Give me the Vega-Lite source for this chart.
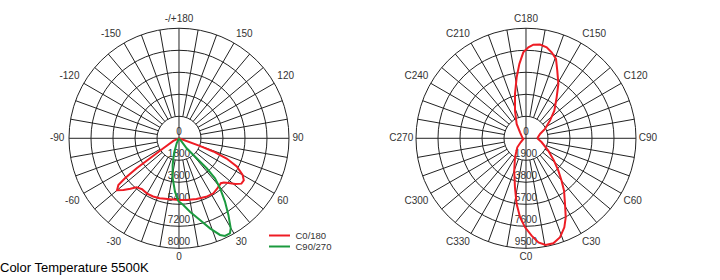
{
  "$schema": "https://vega.github.io/schema/vega-lite/v6.json",
  "padding": 0,
  "spacing": 0,
  "title": {"text": "Color Temperature 5500K", "orient": "bottom", "anchor": "start", "offset": -18, "fontSize": 13, "fontWeight": "normal", "font": "Liberation Sans", "color": "#000"},
  "config": {"view": {"stroke": null}, "font": "Liberation Sans"},
  "datasets": {
    "spokes": [{"a":0},{"a":10},{"a":20},{"a":30},{"a":40},{"a":50},{"a":60},{"a":70},{"a":80},{"a":90},{"a":100},{"a":110},{"a":120},{"a":130},{"a":140},{"a":150},{"a":160},{"a":170},{"a":180},{"a":190},{"a":200},{"a":210},{"a":220},{"a":230},{"a":240},{"a":250},{"a":260},{"a":270},{"a":280},{"a":290},{"a":300},{"a":310},{"a":320},{"a":330},{"a":340},{"a":350}],
    "ringsL": [{"k":0,"label":"0"},{"k":1,"label":"1800"},{"k":2,"label":"3600"},{"k":3,"label":"5400"},{"k":4,"label":"7200"},{"k":5,"label":"8000"}],
    "ringsR": [{"k":0,"label":"0"},{"k":1,"label":"1900"},{"k":2,"label":"3800"},{"k":3,"label":"5700"},{"k":4,"label":"7600"},{"k":5,"label":"9500"}],
    "anglesL": [{"a":0,"label":"0"},{"a":30,"label":"30"},{"a":60,"label":"60"},{"a":90,"label":"90"},{"a":120,"label":"120"},{"a":150,"label":"150"},{"a":180,"label":"-/+180"},{"a":-150,"label":"-150"},{"a":-120,"label":"-120"},{"a":-90,"label":"-90"},{"a":-60,"label":"-60"},{"a":-30,"label":"-30"}],
    "anglesR": [{"a":0,"label":"C0"},{"a":30,"label":"C30"},{"a":60,"label":"C60"},{"a":90,"label":"C90"},{"a":120,"label":"C120"},{"a":150,"label":"C150"},{"a":180,"label":"C180"},{"a":210,"label":"C210"},{"a":240,"label":"C240"},{"a":270,"label":"C270"},{"a":300,"label":"C300"},{"a":330,"label":"C330"}],
    "curvesL": [
      {"plane":"C0/180","a":90,"cd":0},{"plane":"C0/180","a":70,"cd":1800},{"plane":"C0/180","a":69,"cd":3010},{"plane":"C0/180","a":67,"cd":4230},{"plane":"C0/180","a":64,"cd":5260},{"plane":"C0/180","a":60,"cd":6010},{"plane":"C0/180","a":57,"cd":6320},{"plane":"C0/180","a":54,"cd":6310},{"plane":"C0/180","a":51,"cd":5930},{"plane":"C0/180","a":48,"cd":5460},{"plane":"C0/180","a":45.5,"cd":5150},{"plane":"C0/180","a":43,"cd":5020},{"plane":"C0/180","a":37.5,"cd":5155},{"plane":"C0/180","a":32,"cd":5305},{"plane":"C0/180","a":25,"cd":5280},{"plane":"C0/180","a":16,"cd":5170},{"plane":"C0/180","a":7,"cd":5085},{"plane":"C0/180","a":0,"cd":5045},{"plane":"C0/180","a":-8,"cd":5045},{"plane":"C0/180","a":-18,"cd":5150},{"plane":"C0/180","a":-24,"cd":5210},{"plane":"C0/180","a":-30,"cd":5220},{"plane":"C0/180","a":-36,"cd":5150},{"plane":"C0/180","a":-41,"cd":5300},{"plane":"C0/180","a":-44,"cd":5730},{"plane":"C0/180","a":-47,"cd":6210},{"plane":"C0/180","a":-50,"cd":6620},{"plane":"C0/180","a":-52.4,"cd":6260},{"plane":"C0/180","a":-53.5,"cd":5500},{"plane":"C0/180","a":-54.7,"cd":4245},{"plane":"C0/180","a":-55.4,"cd":2880},{"plane":"C0/180","a":-57.5,"cd":1520},{"plane":"C0/180","a":-65,"cd":510},{"plane":"C0/180","a":-90,"cd":0},
      {"plane":"C90/270","a":40,"cd":0},{"plane":"C90/270","a":38.7,"cd":350},{"plane":"C90/270","a":37.5,"cd":1030},{"plane":"C90/270","a":41.5,"cd":2180},{"plane":"C90/270","a":42.7,"cd":3340},{"plane":"C90/270","a":42,"cd":4400},{"plane":"C90/270","a":39.4,"cd":5290},{"plane":"C90/270","a":36,"cd":6400},{"plane":"C90/270","a":32.8,"cd":7460},{"plane":"C90/270","a":29.9,"cd":8490},{"plane":"C90/270","a":28.2,"cd":8820},{"plane":"C90/270","a":25.2,"cd":8830},{"plane":"C90/270","a":23,"cd":8590},{"plane":"C90/270","a":19,"cd":7790},{"plane":"C90/270","a":14.4,"cd":6900},{"plane":"C90/270","a":8.5,"cd":6070},{"plane":"C90/270","a":3.7,"cd":5470},{"plane":"C90/270","a":-0.6,"cd":5130},{"plane":"C90/270","a":-4.3,"cd":4380},{"plane":"C90/270","a":-9,"cd":3310},{"plane":"C90/270","a":-13.4,"cd":2240},{"plane":"C90/270","a":-18.4,"cd":1290},{"plane":"C90/270","a":-25,"cd":450},{"plane":"C90/270","a":-40,"cd":0}
    ],
    "curveR": [
      {"c":90,"cd":980},{"c":75.7,"cd":1400},{"c":61,"cd":2200},{"c":51.4,"cd":3090},{"c":45,"cd":3950},{"c":40,"cd":4780},{"c":36,"cd":5590},{"c":30.7,"cd":6600},{"c":26.7,"cd":7640},{"c":23.3,"cd":8370},{"c":19,"cd":9040},{"c":14.6,"cd":9370},{"c":10.4,"cd":9370},{"c":6.8,"cd":9050},{"c":3.3,"cd":8420},{"c":359.4,"cd":7690},{"c":355.7,"cd":6840},{"c":351.9,"cd":5730},{"c":347.3,"cd":4340},{"c":340,"cd":2970},{"c":330,"cd":1900},{"c":316,"cd":1080},{"c":307,"cd":575},{"c":284,"cd":240},{"c":270,"cd":290},{"c":225,"cd":730},{"c":213,"cd":1480},{"c":201.7,"cd":2570},{"c":193.9,"cd":3950},{"c":188.7,"cd":5330},{"c":185.1,"cd":6450},{"c":181.8,"cd":7430},{"c":178.5,"cd":7860},{"c":175.5,"cd":8110},{"c":171.5,"cd":8180},{"c":167.2,"cd":8060},{"c":163.4,"cd":7750},{"c":159.3,"cd":7330},{"c":155.2,"cd":6440},{"c":149.2,"cd":5460},{"c":143.2,"cd":4420},{"c":134.3,"cd":3420},{"c":126.4,"cd":2570},{"c":116.2,"cd":1830},{"c":107.2,"cd":1270},{"c":90,"cd":980}
    ]
  },
  "hconcat": [
    {
      "width": 360,
      "height": 280,
      "layer": [
        {
          "data": {"name": "ringsL"},
          "transform": [{"filter": "datum.k > 0"}],
          "mark": {"type": "point", "shape": "circle", "filled": false, "stroke": "#222", "strokeWidth": 1, "opacity": 1},
          "encoding": {
            "x": {"datum": 0, "type": "quantitative", "scale": {"domain": [-8.136, 8.227], "nice": false, "zero": false}, "axis": null},
            "y": {"datum": 0, "type": "quantitative", "scale": {"domain": [-6.441, 6.286], "nice": false, "zero": false}, "axis": null},
            "size": {"field": "k", "type": "quantitative", "scale": {"type": "pow", "exponent": 2, "domain": [0, 5], "range": [0, 48400]}, "legend": null}
          }
        },
        {
          "data": {"name": "spokes"},
          "transform": [
            {"calculate": "datum.a % 90 == 0 ? 0 : 1", "as": "r0"},
            {"calculate": "datum.r0*sin(datum.a*PI/180)", "as": "x"},
            {"calculate": "-datum.r0*cos(datum.a*PI/180)", "as": "y"},
            {"calculate": "5*sin(datum.a*PI/180)", "as": "x2"},
            {"calculate": "-5*cos(datum.a*PI/180)", "as": "y2"}
          ],
          "mark": {"type": "rule", "stroke": "#222", "strokeWidth": 1},
          "encoding": {
            "x": {"field": "x", "type": "quantitative", "scale": {"domain": [-8.136, 8.227], "nice": false, "zero": false}, "axis": null},
            "y": {"field": "y", "type": "quantitative", "scale": {"domain": [-6.441, 6.286], "nice": false, "zero": false}, "axis": null},
            "x2": {"field": "x2"},
            "y2": {"field": "y2"}
          }
        },
        {
          "data": {"name": "ringsL"},
          "transform": [{"calculate": "datum.k == 0 ? 0.3 : 0.3 - datum.k", "as": "y"}],
          "mark": {"type": "text", "fontSize": 10, "font": "Liberation Sans", "fill": "#333", "align": "center", "baseline": "middle"},
          "encoding": {
            "x": {"datum": 0, "type": "quantitative", "scale": {"domain": [-8.136, 8.227], "nice": false, "zero": false}, "axis": null},
            "y": {"field": "y", "type": "quantitative", "scale": {"domain": [-6.441, 6.286], "nice": false, "zero": false}, "axis": null},
            "text": {"field": "label"}
          }
        },
        {
          "data": {"name": "anglesL"},
          "transform": [
            {"calculate": "sin(datum.a*PI/180)", "as": "s"},
            {"calculate": "cos(datum.a*PI/180)", "as": "c"},
            {"calculate": "5.15*datum.s + (abs(datum.s) > 0.1 ? (datum.s > 0 ? 1 : -1)*length(datum.label)*0.13 : 0)", "as": "x"},
            {"calculate": "-(5.15*datum.c + (abs(datum.c) > 0.1 ? (datum.c > 0 ? 1 : -1)*0.26 : 0))", "as": "y"}
          ],
          "mark": {"type": "text", "fontSize": 10, "font": "Liberation Sans", "fill": "#333", "align": "center", "baseline": "middle"},
          "encoding": {
            "x": {"field": "x", "type": "quantitative", "scale": {"domain": [-8.136, 8.227], "nice": false, "zero": false}, "axis": null},
            "y": {"field": "y", "type": "quantitative", "scale": {"domain": [-6.441, 6.286], "nice": false, "zero": false}, "axis": null},
            "text": {"field": "label"}
          }
        },
        {
          "data": {"name": "curvesL"},
          "transform": [
            {"calculate": "datum.cd/1800*sin(datum.a*PI/180)", "as": "x"},
            {"calculate": "-datum.cd/1800*cos(datum.a*PI/180)", "as": "y"}
          ],
          "mark": {"type": "line", "strokeWidth": 2},
          "encoding": {
            "x": {"field": "x", "type": "quantitative", "scale": {"domain": [-8.136, 8.227], "nice": false, "zero": false}, "axis": null},
            "y": {"field": "y", "type": "quantitative", "scale": {"domain": [-6.441, 6.286], "nice": false, "zero": false}, "axis": null},
            "color": {"field": "plane", "type": "nominal", "scale": {"domain": ["C0/180", "C90/270"], "range": ["#ee1c24", "#1b9a3e"]},
              "legend": {"title": null, "orient": "none", "legendX": 273, "legendY": 229, "symbolType": "M-2,0L2,0", "symbolSize": 110, "symbolStrokeWidth": 2, "labelFont": "Liberation Sans", "labelFontSize": 9.5, "labelColor": "#333", "rowPadding": 0, "labelOffset": 9.5, "padding": 0}},
            "order": {"value": null}
          }
        }
      ]
    },
    {
      "width": 360,
      "height": 280,
      "layer": [
        {
          "data": {"name": "ringsR"},
          "transform": [{"filter": "datum.k > 0"}],
          "mark": {"type": "point", "shape": "circle", "filled": false, "stroke": "#222", "strokeWidth": 1, "opacity": 1},
          "encoding": {
            "x": {"datum": 0, "type": "quantitative", "scale": {"domain": [-7.545, 8.818], "nice": false, "zero": false}, "axis": null},
            "y": {"datum": 0, "type": "quantitative", "scale": {"domain": [-6.441, 6.286], "nice": false, "zero": false}, "axis": null},
            "size": {"field": "k", "type": "quantitative", "scale": {"type": "pow", "exponent": 2, "domain": [0, 5], "range": [0, 48400]}, "legend": null}
          }
        },
        {
          "data": {"name": "spokes"},
          "transform": [
            {"calculate": "datum.a % 90 == 0 ? 0 : 1", "as": "r0"},
            {"calculate": "datum.r0*sin(datum.a*PI/180)", "as": "x"},
            {"calculate": "-datum.r0*cos(datum.a*PI/180)", "as": "y"},
            {"calculate": "5*sin(datum.a*PI/180)", "as": "x2"},
            {"calculate": "-5*cos(datum.a*PI/180)", "as": "y2"}
          ],
          "mark": {"type": "rule", "stroke": "#222", "strokeWidth": 1},
          "encoding": {
            "x": {"field": "x", "type": "quantitative", "scale": {"domain": [-7.545, 8.818], "nice": false, "zero": false}, "axis": null},
            "y": {"field": "y", "type": "quantitative", "scale": {"domain": [-6.441, 6.286], "nice": false, "zero": false}, "axis": null},
            "x2": {"field": "x2"},
            "y2": {"field": "y2"}
          }
        },
        {
          "data": {"name": "ringsR"},
          "transform": [{"calculate": "datum.k == 0 ? 0.3 : 0.3 - datum.k", "as": "y"}],
          "mark": {"type": "text", "fontSize": 10, "font": "Liberation Sans", "fill": "#333", "align": "center", "baseline": "middle"},
          "encoding": {
            "x": {"datum": 0, "type": "quantitative", "scale": {"domain": [-7.545, 8.818], "nice": false, "zero": false}, "axis": null},
            "y": {"field": "y", "type": "quantitative", "scale": {"domain": [-6.441, 6.286], "nice": false, "zero": false}, "axis": null},
            "text": {"field": "label"}
          }
        },
        {
          "data": {"name": "anglesR"},
          "transform": [
            {"calculate": "sin(datum.a*PI/180)", "as": "s"},
            {"calculate": "cos(datum.a*PI/180)", "as": "c"},
            {"calculate": "5.15*datum.s + (abs(datum.s) > 0.1 ? (datum.s > 0 ? 1 : -1)*length(datum.label)*0.13 : 0)", "as": "x"},
            {"calculate": "-(5.15*datum.c + (abs(datum.c) > 0.1 ? (datum.c > 0 ? 1 : -1)*0.26 : 0))", "as": "y"}
          ],
          "mark": {"type": "text", "fontSize": 10, "font": "Liberation Sans", "fill": "#333", "align": "center", "baseline": "middle"},
          "encoding": {
            "x": {"field": "x", "type": "quantitative", "scale": {"domain": [-7.545, 8.818], "nice": false, "zero": false}, "axis": null},
            "y": {"field": "y", "type": "quantitative", "scale": {"domain": [-6.441, 6.286], "nice": false, "zero": false}, "axis": null},
            "text": {"field": "label"}
          }
        },
        {
          "data": {"name": "curveR"},
          "transform": [
            {"calculate": "datum.cd/1900*sin(datum.c*PI/180)", "as": "x"},
            {"calculate": "-datum.cd/1900*cos(datum.c*PI/180)", "as": "y"}
          ],
          "mark": {"type": "line", "strokeWidth": 2, "color": "#ee1c24"},
          "encoding": {
            "x": {"field": "x", "type": "quantitative", "scale": {"domain": [-7.545, 8.818], "nice": false, "zero": false}, "axis": null},
            "y": {"field": "y", "type": "quantitative", "scale": {"domain": [-6.441, 6.286], "nice": false, "zero": false}, "axis": null},
            "order": {"value": null}
          }
        }
      ]
    }
  ]
}
